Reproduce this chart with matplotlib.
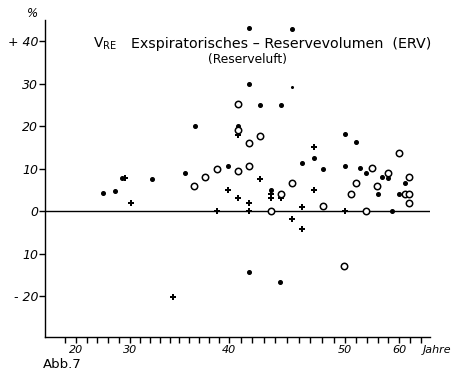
import numpy as np
import matplotlib
matplotlib.use("Agg")
import matplotlib.pyplot as plt

# Alter (Jahre) und Abweichung (%) -- drei Gruppen von Zeichen
dot_x = [25.0, 27.2, 28.5, 32.2, 35.6, 36.6, 39.9, 40.8, 41.7, 41.7, 42.7, 44.5,
         45.4, 46.3, 47.3, 43.6, 41.7, 44.4, 48.1, 50.0, 52.0, 50.0, 52.8, 53.8,
         56.9, 57.9, 56.0, 61.0, 59.9, 58.6]
dot_y = [4.3, 4.8, 7.8, 7.5, 9.1, 20.1, 10.7, 20.1, 43.0, 29.9, 25.0, 25.0,
         42.8, 11.4, 12.5, 5.0, -14.2, -16.6, 10.0, 18.2, 16.2, 10.7, 10.1, 9.1,
         8.1, 7.9, 4.1, 6.6, 4.1, 0.0]

plus_x = [29.1, 30.1, 34.4, 40.8, 42.7, 39.9, 40.8, 41.7, 43.6, 43.6, 44.5,
          38.8, 41.7, 46.3, 45.4, 46.3, 47.3, 47.3, 50.0]
plus_y = [7.8, 2.0, -20.1, 18.0, 7.6, 5.0, 3.1, 2.0, 4.1, 3.1, 3.1,
          0.0, 0.0, 1.1, -1.8, -4.2, 15.1, 5.0, 0.0]

circ_x = [40.8, 40.8, 41.7, 42.7, 36.5, 37.6, 38.8, 40.8, 41.7, 45.4, 44.5, 43.6,
          54.9, 52.0, 51.0, 59.9, 57.9, 55.9, 61.9, 61.0, 61.9, 61.9, 48.1, 53.9, 49.9]
circ_y = [25.2, 19.0, 16.0, 17.6, 6.0, 8.1, 10.0, 9.5, 10.7, 6.6, 4.1, 0.0,
          10.1, 6.6, 4.0, 13.8, 8.9, 6.0, 8.0, 4.1, 4.1, 2.0, 1.2, 0.0, -12.9]

faint_x = [45.4]
faint_y = [29.3]

y_ticks = [-20, -10, 0, 10, 20, 30, 40]
y_labels = ["- 20", "10", "0", "10", "20", "30", "+ 40"]
x_major = [20, 30, 40, 50, 60]
x_minor = [18, 22, 24, 26, 28, 31, 32, 33, 34, 35, 36, 37, 38, 39,
           41, 42, 43, 44, 45, 46, 47, 48, 49, 52, 54, 56, 58, 62, 64]

# ungleichmaessige Altersachse (eng unter 30 und ueber 50)
yr_pts = np.array([0.0, 20, 30, 40, 50, 60, 100])
ax_pts = np.array([-108.0, 0, 54, 153, 269, 323, 539])


def fwd(x):
    return np.interp(x, yr_pts, ax_pts)


def inv(p):
    return np.interp(p, ax_pts, yr_pts)


fig = plt.figure(figsize=(4.56, 3.73), dpi=100)
ax = fig.add_axes([45 / 456, 1 - 337 / 373, 385 / 456, 317 / 373])

ax.set_xscale("function", functions=(fwd, inv))
ax.set_xlim(14.3, 65.7)
ax.set_ylim(-29.6, 45.0)

ax.axhline(0, color="black", lw=1.0, zorder=1)

ax.plot(dot_x, dot_y, "o", color="black", ms=2.6, zorder=3)
ax.plot(faint_x, faint_y, "o", color="black", ms=1.2, zorder=3)
ax.plot(plus_x, plus_y, "P", color="black", ms=4.0, mew=0, zorder=3)
ax.plot(circ_x, circ_y, "o", mfc="white", mec="black", mew=1.1, ms=4.6, zorder=4)

for s in ["top", "right"]:
    ax.spines[s].set_visible(False)
ax.spines["left"].set_linewidth(1.0)
ax.spines["bottom"].set_linewidth(1.0)

ax.set_yticks(y_ticks)
ax.set_yticklabels(y_labels, fontsize=9, style="italic")
ax.set_xticks(x_major)
ax.set_xticklabels([str(v) for v in x_major], fontsize=8, style="italic")
ax.set_xticks(x_minor, minor=True)
ax.tick_params(axis="both", direction="out", length=4, width=1, color="black", pad=2)
ax.tick_params(axis="x", which="minor", length=4, width=1)
ax.tick_params(axis="y", pad=1)

# Titel
fig.text(93 / 456, 1 - 48 / 373, r"V$_{\mathrm{RE}}$", fontsize=10, va="baseline", ha="left")
fig.text(131 / 456, 1 - 48 / 373, "Exspiratorisches – Reservevolumen  (ERV)",
         fontsize=10.3, va="baseline", ha="left")
fig.text(248 / 456, 1 - 63 / 373, "(Reserveluft)", fontsize=8.8, va="baseline", ha="center")
fig.text(33 / 456, 1 - 17 / 373, "%", fontsize=8.5, style="italic", ha="center", va="baseline")
fig.text(423 / 456, 1 - 353 / 373, "Jahre", fontsize=8, style="italic", ha="left", va="baseline")
fig.text(43 / 456, 1 - 368 / 373, "Abb.7", fontsize=9.5, ha="left", va="baseline")

fig.savefig("out.png", dpi=100)
